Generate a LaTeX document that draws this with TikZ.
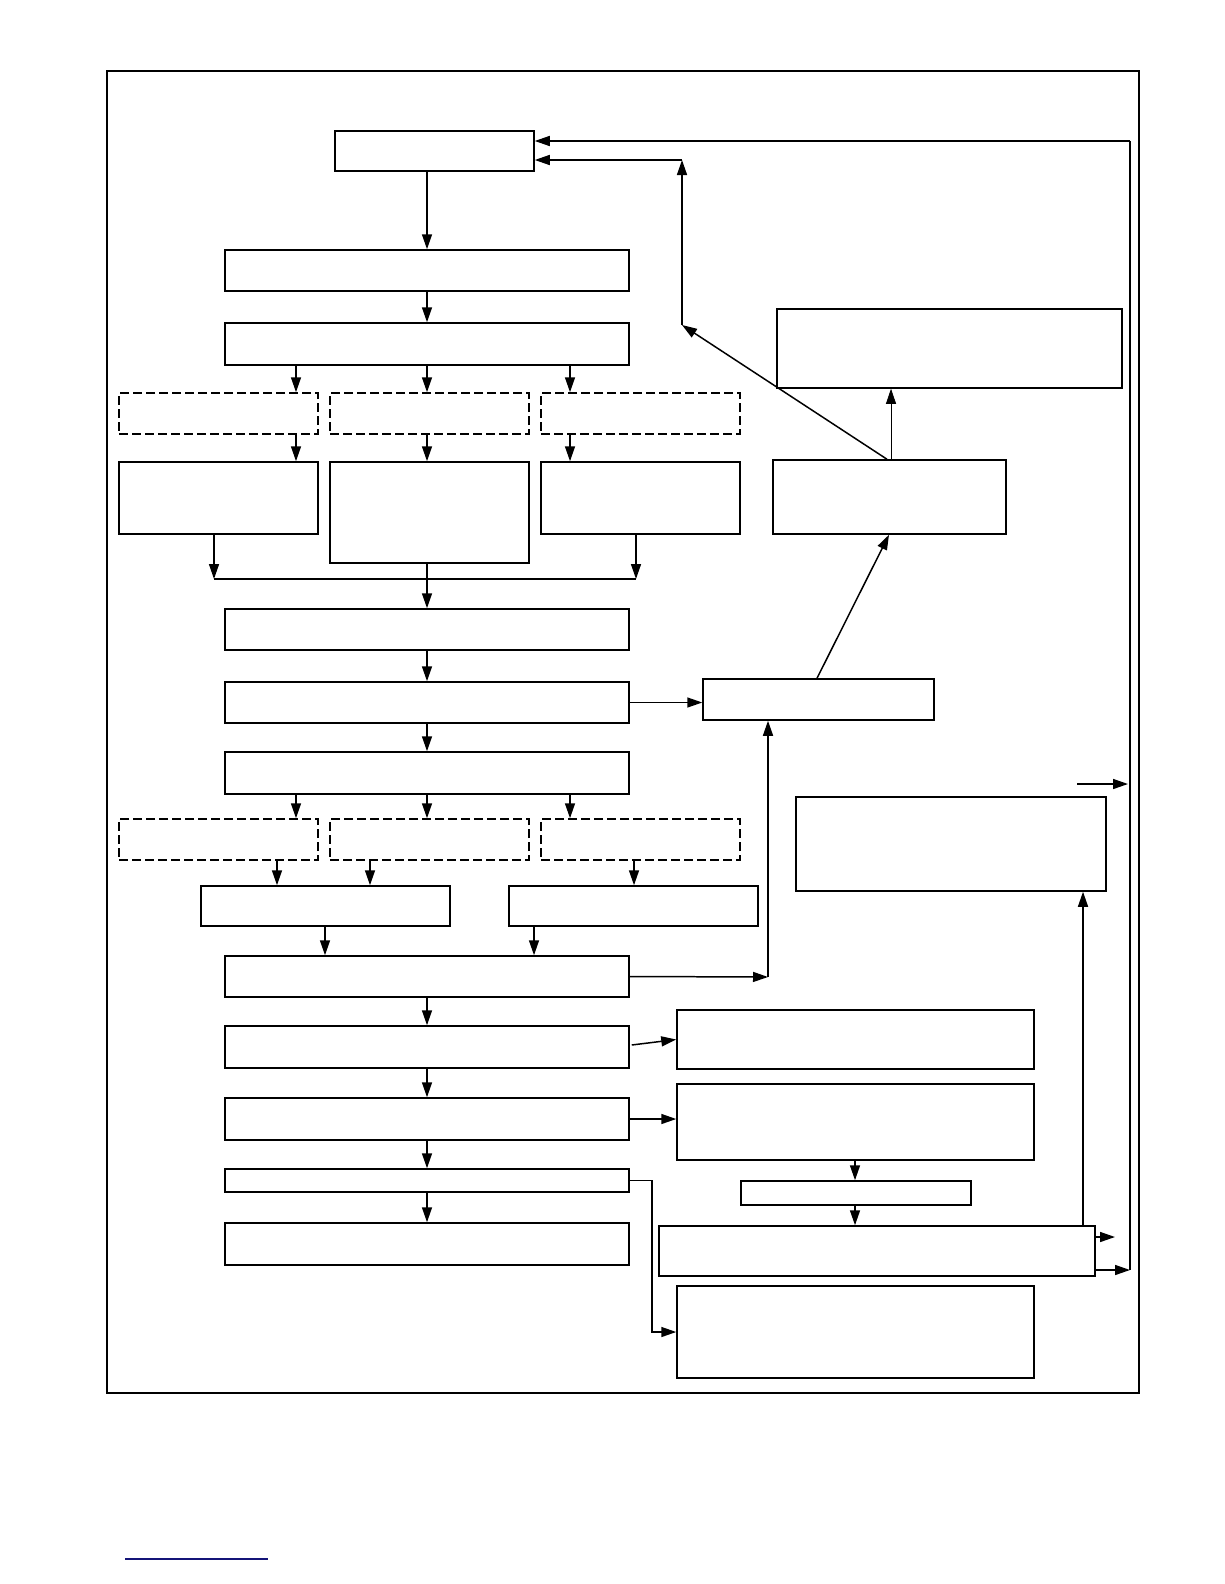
\documentclass[tikz,border=0pt]{standalone}
\usetikzlibrary{arrows.meta}
\tikzset{every picture/.style={line width=0.75pt}}
\tikzset{box/.style={draw,line width=1.5pt},
  dbox/.style={draw,line width=1.5pt,dash pattern=on 9bp off 4bp},
  arr/.style={-{Triangle[length=15bp,width=10bp]},line width=1.5pt}}
\begin{document}
\begin{tikzpicture}[x=1bp,y=1bp,yscale=-1,xscale=1]
\useasboundingbox (0,0) rectangle (1224,1584);
%frame
\draw [line width=1.5pt] (107,71) rectangle (1139,1393);
\draw [color={rgb, 255:red, 20; green, 20; blue, 120 }, line width=1.5pt] (125,1559) -- (268,1559);

%boxes
\node [box,minimum width=199bp,minimum height=40bp] (start) at (434.5,151) {};
\node [box,minimum width=404bp,minimum height=41bp] (b1) at (427,270.5) {};
\node [box,minimum width=404bp,minimum height=42bp] (b2) at (427,344) {};
\node [dbox,minimum width=199bp,minimum height=41bp] (d1) at (218.5,413.5) {};
\node [dbox,minimum width=199bp,minimum height=41bp] (d2) at (429.5,413.5) {};
\node [dbox,minimum width=199bp,minimum height=41bp] (d3) at (640.5,413.5) {};
\node [box,minimum width=199bp,minimum height=72bp] (e1) at (218.5,498) {};
\node [box,minimum width=199bp,minimum height=101bp] (e2) at (429.5,512.5) {};
\node [box,minimum width=199bp,minimum height=72bp] (e3) at (640.5,498) {};
\node [box,minimum width=345bp,minimum height=79bp] (r1) at (949.5,348.5) {};
\node [box,minimum width=233bp,minimum height=74bp] (r2) at (889.5,497) {};
\node [box,minimum width=404bp,minimum height=41bp] (f) at (427,629.5) {};
\node [box,minimum width=404bp,minimum height=41bp] (g) at (427,702.5) {};
\node [box,minimum width=231bp,minimum height=41bp] (h) at (818.5,699.5) {};
\node [box,minimum width=404bp,minimum height=42bp] (i) at (427,773) {};
\node [dbox,minimum width=199bp,minimum height=41bp] (j1) at (218.5,839.5) {};
\node [dbox,minimum width=199bp,minimum height=41bp] (j2) at (429.5,839.5) {};
\node [dbox,minimum width=199bp,minimum height=41bp] (j3) at (640.5,839.5) {};
\node [box,minimum width=249bp,minimum height=40bp] (k1) at (325.5,906) {};
\node [box,minimum width=249bp,minimum height=40bp] (k2) at (633.5,906) {};
\node [box,minimum width=310bp,minimum height=94bp] (l) at (951,844) {};
\node [box,minimum width=404bp,minimum height=41bp] (m) at (427,976.5) {};
\node [box,minimum width=404bp,minimum height=42bp] (n) at (427,1047) {};
\node [box,minimum width=357bp,minimum height=59bp] (o) at (855.5,1039.5) {};
\node [box,minimum width=404bp,minimum height=42bp] (p) at (427,1119) {};
\node [box,minimum width=357bp,minimum height=76bp] (q) at (855.5,1122) {};
\node [box,minimum width=404bp,minimum height=23bp] (s) at (427,1180.5) {};
\node [box,minimum width=230bp,minimum height=24bp] (t) at (856,1193) {};
\node [box,minimum width=436bp,minimum height=50bp] (u) at (877,1251) {};
\node [box,minimum width=404bp,minimum height=42bp] (v) at (427,1244) {};
\node [box,minimum width=357bp,minimum height=92bp] (w) at (855.5,1332) {};

%left column
\draw [arr] (start.south -| 427,0) -- (b1.north -| 427,0);
\draw [arr] (b1) -- (b2);
\draw [arr] (b2.south -| 296,0) -- (d1.north -| 296,0);
\draw [arr] (b2.south -| 427,0) -- (d2.north -| 427,0);
\draw [arr] (b2.south -| 570,0) -- (d3.north -| 570,0);
\draw [arr] (d1.south -| 296,0) -- (e1.north -| 296,0);
\draw [arr] (d2.south -| 427,0) -- (e2.north -| 427,0);
\draw [arr] (d3.south -| 570,0) -- (e3.north -| 570,0);
\coordinate (jl) at (214,579);
\coordinate (jr) at (636,579);
\draw [arr] (e1.south -| jl) -- (jl);
\draw [arr] (e3.south -| jr) -- (jr);
\draw [line width=1.5pt] (jl) -- (jr);
\draw [arr] (e2.south -| 427,0) -- (f.north -| 427,0);
\draw [arr] (f) -- (g);
\draw [arr] (g) -- (i);
\draw [arr] (g.east) -- (h.west |- g.east);
\draw [arr] (i.south -| 296,0) -- (j1.north -| 296,0);
\draw [arr] (i.south -| 427,0) -- (j2.north -| 427,0);
\draw [arr] (i.south -| 570,0) -- (j3.north -| 570,0);
\draw [arr] (j1.south -| 277,0) -- (k1.north -| 277,0);
\draw [arr] (j2.south -| 370,0) -- (k1.north -| 370,0);
\draw [arr] (j3.south -| 634,0) -- (k2.north -| 634,0);
\draw [arr] (k1.south -| 325,0) -- (m.north -| 325,0);
\draw [arr] (k2.south -| 534,0) -- (m.north -| 534,0);
\coordinate (mh) at (768,977);
\draw [arr] (m.east) -- (mh);
\draw [arr] (mh) -- (h.south -| mh);
\draw [arr] (m) -- (n);
\draw [arr] (n) -- (p);
\draw [arr] (p) -- (s);
\draw [arr] (s) -- (v);
\draw [arr] (n.east) ++(2,-2) -- (o.west);
\draw [arr] (p.east) -- (q.west |- p.east);
\draw [arr] (s.east) -- (s.east -| 652,0) |- (w.west);

%right column
\draw [arr] (q.south -| 855,0) -- (t.north -| 855,0);
\draw [arr] (t.south -| 855,0) -- (u.north -| 855,0);
\coordinate (rail) at (1130,141);
\draw [arr] (u.east |- 0,1237) -- (1115,1237);
\draw [arr] (u.east |- 0,1270) -- (rail |- 0,1270);
\draw [line width=1.5pt] (rail) -- (rail |- 0,1270);
\draw [arr] (rail) -- (start.east |- rail);
\draw [arr] (1077,784) -- (1128,784);
\draw [arr] (u.north -| 1083,0) -- (l.south -| 1083,0);
\draw [arr] (h.north -| 817,0) -- (r2.south -| 889,0);
\coordinate (bend) at (682,325);
\draw [arr] (r2.north -| 887,0) -- (bend);
\draw [arr] (bend) -- (682,160);
\draw [arr] (682,160) -- (start.east |- 0,160);
\draw [-{Triangle[length=15bp,width=10bp]}] (r2.north -| 891,0) -- (r1.south -| 891,0);
\end{tikzpicture}
\end{document}
